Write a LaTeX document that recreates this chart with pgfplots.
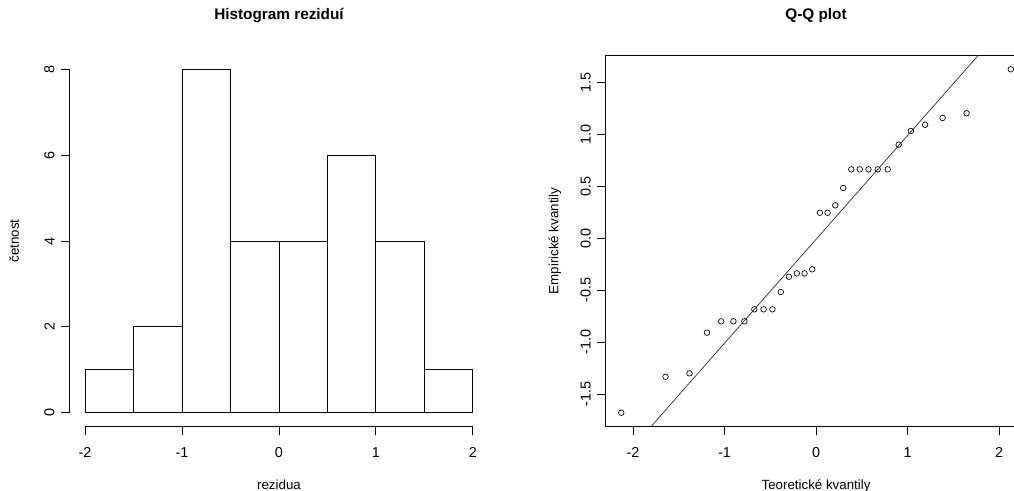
\documentclass[border=0pt]{standalone}
\usepackage{pgfplots}
\pgfplotsset{compat=1.18}
\usepackage{fontspec}
\setmainfont{Liberation Sans}
\begin{document}
\begin{tikzpicture}
\clip (0,0) rectangle (760.5pt,368.25pt);
\pgfplotsset{
  rstyle/.style={
    scale only axis, anchor=south west,
    height=278.2pt,
    tick align=outside, major tick length=6.2pt,
    tick style={black, line width=0.75pt},
    axis line style={black, line width=0.75pt},
    xtick pos=bottom, ytick pos=left,
    ticklabel style={font=\fontsize{10.8}{12}\selectfont},
    xticklabel style={yshift=-6pt},
    yticklabel style={xshift=-1.5pt, rotate=90, anchor=south},
    title style={font=\bfseries\fontsize{11.5}{13}\selectfont, at={(0.5,1)}, anchor=center, yshift=23.7pt},
    label style={font=\fontsize{10}{12}\selectfont},
  }
}
\begin{axis}[rstyle,
  at={(52.125pt,48.375pt)}, width=314.25pt,
  xmin=-2.16, xmax=2.16, ymin=-0.32, ymax=8.32,
  axis x line*=bottom, axis y line*=left,
  x axis line style={shorten <=11.64pt, shorten >=11.64pt},
  y axis line style={shorten <=10.3pt, shorten >=10.3pt},
  xtick={-2,-1,0,1,2}, xticklabels={-2,-1,0,1,2},
  ytick={0,2,4,6,8}, yticklabels={0,2,4,6,8},
  title={Histogram reziduí},
  xlabel={rezidua}, ylabel={četnost},
  xlabel style={at={(axis description cs:0.5,0)}, anchor=base, yshift=-47.25pt},
  ylabel style={at={(axis description cs:-0.121,0.5)}, anchor=base},
]
\addplot[ybar interval, fill=white, draw=black, line width=0.75pt] coordinates {
(-2,1) (-1.5,2) (-1,8) (-0.5,4) (0,4) (0.5,6) (1,4) (1.5,1) (2,1)};
\end{axis}
\begin{axis}[rstyle,
  at={(454.3pt,48.375pt)}, width=315.45pt,
  xmin=-2.298, xmax=2.298, ymin=-1.809, ymax=1.757,
  xtick={-2,-1,0,1,2}, xticklabels={-2,-1,0,1,2},
  ytick={-1.5,-1,-0.5,0,0.5,1,1.5}, yticklabels={-1.5,-1.0,-0.5,0.0,0.5,1.0,1.5},
  title={Q-Q plot},
  xlabel={Teoretické kvantily}, ylabel={Empirické kvantily},
  xlabel style={at={(axis description cs:0.5,0)}, anchor=base, yshift=-47.25pt},
  ylabel style={at={(axis description cs:-0.1129,0.5)}, anchor=base},
]
\addplot[black!85, line width=0.5pt] coordinates {(-2.6,-2.605) (2.6,2.585)};
\addplot[only marks, mark=o, mark size=2.1pt, mark options={line width=0.5pt, black}] coordinates {
(-2.128,-1.677) (-1.645,-1.331) (-1.383,-1.298) (-1.192,-0.907) (-1.036,-0.798)
(-0.903,-0.798) (-0.783,-0.798) (-0.674,-0.683) (-0.573,-0.683) (-0.477,-0.683)
(-0.385,-0.516) (-0.297,-0.369) (-0.210,-0.337) (-0.126,-0.337) (-0.042,-0.298)
(0.042,0.246) (0.126,0.246) (0.210,0.317) (0.297,0.484) (0.385,0.663)
(0.477,0.663) (0.573,0.663) (0.674,0.663) (0.783,0.663) (0.903,0.900)
(1.036,1.032) (1.192,1.092) (1.383,1.157) (1.645,1.202) (2.128,1.625)};
\end{axis}
\end{tikzpicture}
\end{document}
